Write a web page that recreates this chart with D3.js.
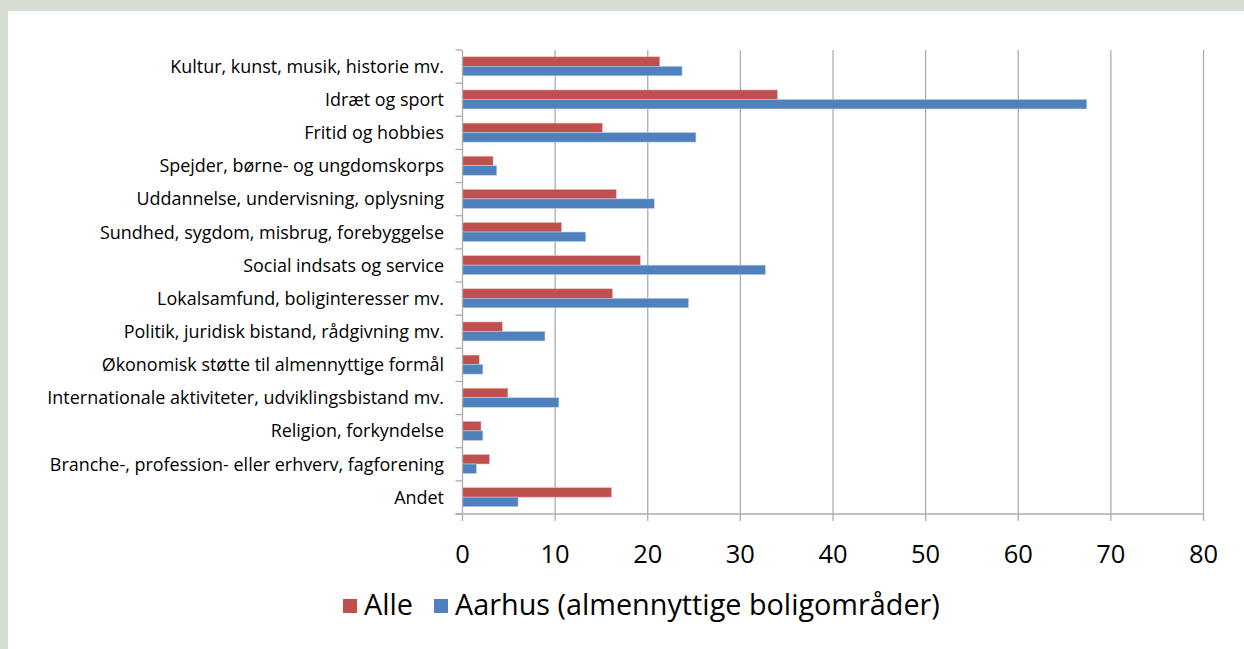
<!DOCTYPE html>
<html><head><meta charset="utf-8">
<script src="https://cdn.jsdelivr.net/npm/d3@7"></script>
<style>
html,body{margin:0;padding:0;background:#d8ddd3;}
svg{display:block;}
text{font-family:"Open Sans",sans-serif;fill:#000;}
</style></head>
<body>
<svg id="chart" width="1244" height="649"></svg>
<script>
const categories = [
  "Kultur, kunst, musik, historie mv.",
  "Idræt og sport",
  "Fritid og hobbies",
  "Spejder, børne- og ungdomskorps",
  "Uddannelse, undervisning, oplysning",
  "Sundhed, sygdom, misbrug, forebyggelse",
  "Social indsats og service",
  "Lokalsamfund, boliginteresser mv.",
  "Politik, juridisk bistand, rådgivning mv.",
  "Økonomisk støtte til almennyttige formål",
  "Internationale aktiviteter, udviklingsbistand mv.",
  "Religion, forkyndelse",
  "Branche-, profession- eller erhverv, fagforening",
  "Andet"
];
const seriesNames = ["Alle", "Aarhus (almennyttige boligområder)"];
const alle   = [21.3, 34.0, 15.1, 3.3, 16.6, 10.7, 19.2, 16.2, 4.3, 1.8, 4.9, 2.0, 2.9, 16.1];
const aarhus = [23.7, 67.4, 25.2, 3.7, 20.7, 13.3, 32.7, 24.4, 8.9, 2.2, 10.4, 2.2, 1.5, 6.0];
const xTicks = [0, 10, 20, 30, 40, 50, 60, 70, 80];
const colors = ["#C0504D", "#4F81BD"];

const svg = d3.select("#chart");
svg.append("rect").attr("x", 8).attr("y", 11).attr("width", 1244 - 8).attr("height", 649 - 11).attr("fill", "#ffffff");

const plot = {left: 462.5, right: 1203.5, top: 50, bottom: 514};
const x = d3.scaleLinear().domain([0, 80]).range([plot.left, plot.right]);
const y = d3.scaleBand().domain(categories).range([plot.top, plot.bottom]).padding(0);
const inner = d3.scaleBand().domain(seriesNames).range([6.8, 25.8]).padding(0);

const gridColor = "#acacac";
// gridlines
svg.append("g").selectAll("line").data(xTicks.filter(d => d > 0)).join("line")
  .attr("x1", d => x(d)).attr("x2", d => x(d))
  .attr("y1", plot.top).attr("y2", plot.bottom + 7)
  .attr("stroke", gridColor).attr("stroke-width", 1.3);

// bars
const seriesData = [alle, aarhus];
seriesData.forEach((vals, si) => {
  svg.append("g").selectAll("rect").data(vals).join("rect")
    .attr("x", x(0))
    .attr("y", (d, i) => y(categories[i]) + inner(seriesNames[si]))
    .attr("width", d => x(d) - x(0))
    .attr("height", inner.bandwidth())
    .attr("fill", colors[si])
    .attr("stroke", si === 0 ? "#e8b8b7" : "#b9cde6")
    .attr("stroke-width", 0.6);
});

// y axis
const yAxis = svg.append("g").attr("transform", `translate(${plot.left},0)`);
yAxis.append("line").attr("x1", 0).attr("x2", 0).attr("y1", plot.top).attr("y2", plot.bottom + 7)
  .attr("stroke", gridColor).attr("stroke-width", 1.3);
const yTickPos = d3.range(categories.length + 1).map(i => plot.top + i * y.step());
yAxis.selectAll("line.t").data(yTickPos).join("line").attr("class", "t")
  .attr("x1", -7).attr("x2", 0).attr("y1", d => d).attr("y2", d => d)
  .attr("stroke", gridColor).attr("stroke-width", 1.3);

// x axis
svg.append("line").attr("x1", plot.left - 7).attr("x2", plot.right).attr("y1", plot.bottom).attr("y2", plot.bottom)
  .attr("stroke", gridColor).attr("stroke-width", 1.3);

svg.append("g").selectAll("text").data(xTicks).join("text")
  .attr("x", d => x(d)).attr("y", 563)
  .attr("text-anchor", "middle")
  .attr("font-size", 25.5)
  .text(d => d);

// category labels
const labels = svg.append("g").selectAll("text").data(categories).join("text")
  .attr("x", 444)
  .attr("y", d => y(d) + y.bandwidth() / 2)
  .attr("dy", "0.35em")
  .attr("text-anchor", "end")
  .attr("font-size", 15)
  .text(d => d);
// fit font size so longest label matches reference width
const ref = labels.filter(d => d === categories[10]).node();
const w = ref.getComputedTextLength();
const fs = 15 * 397 / w;
labels.attr("font-size", fs);

// legend
const legend = svg.append("g");
const legendItems = [{x: 343, name: seriesNames[0], c: colors[0]}, {x: 434, name: seriesNames[1], c: colors[1]}];
legendItems.forEach(it => {
  legend.append("rect").attr("x", it.x).attr("y", 599).attr("width", 14).attr("height", 14).attr("fill", it.c);
  legend.append("text").attr("x", it.x + 21).attr("y", 615).attr("font-size", 24).text(it.name);
});
const lt = legend.selectAll("text").filter((d, i, n) => n[i].textContent === seriesNames[1]);
const lw = lt.node().getComputedTextLength();
const lfs = 24 * 485 / lw;
legend.selectAll("text").attr("font-size", lfs);
</script>
</body></html>
